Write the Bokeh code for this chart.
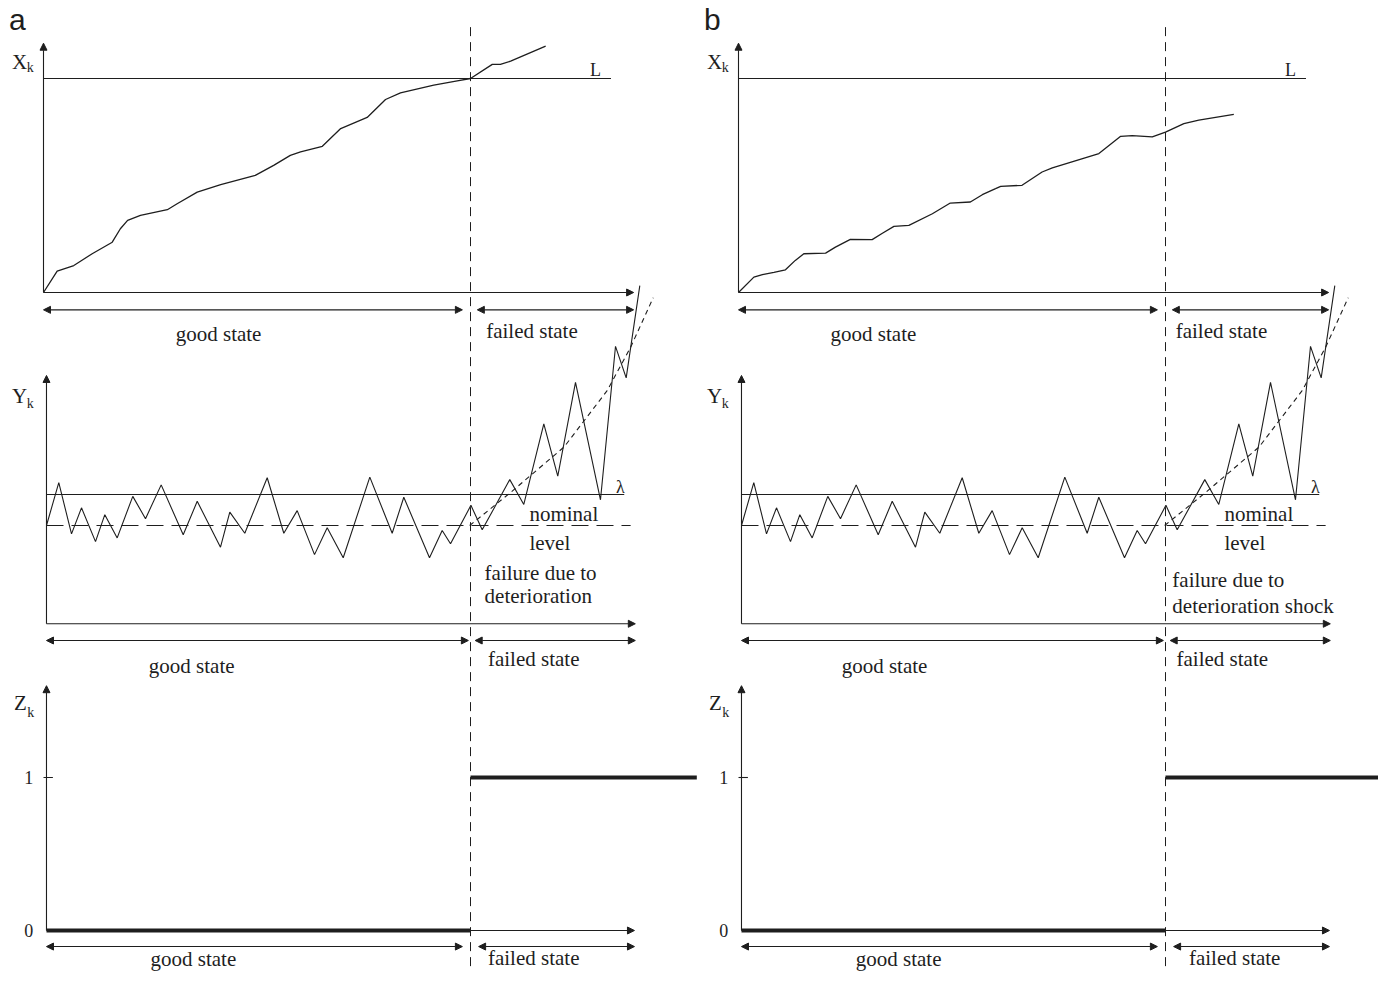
from bokeh.plotting import figure
from bokeh.models import Range1d, Arrow, NormalHead
from bokeh.core.properties import value
from bokeh.embed import file_html
from bokeh.resources import INLINE

# ---------------- data ----------------
# degradation path X_k (panel a: crosses L at failure; panel b: stays below L)
k_x_a = [0, 3.2, 7.1, 11.4, 16.1, 18.0, 19.7, 22.7, 29.0, 31.3, 36.0, 41.5, 49.6, 53.9,
         57.8, 60.2, 65.3, 69.6, 75.8, 80.1, 83.6, 91.4, 96.9, 100.0, 105.1, 107.0, 109.4, 117.6]
x_a = [0, 0.100, 0.126, 0.181, 0.235, 0.298, 0.337, 0.360, 0.387, 0.415, 0.469, 0.504, 0.547,
       0.594, 0.641, 0.657, 0.683, 0.766, 0.818, 0.902, 0.933, 0.969, 0.989, 1.0, 1.066, 1.066,
       1.081, 1.151]
k_x_b = [0, 3.6, 5.6, 8.3, 11.0, 13.3, 15.3, 20.4, 22.7, 26.2, 31.3, 33.7, 36.4, 39.9, 45.4,
         49.6, 54.3, 57.1, 60.2, 61.4, 66.4, 71.1, 73.5, 84.4, 89.5, 92.2, 96.9, 100.0, 104.3,
         107.8, 116.0]
x_b = [0, 0.072, 0.084, 0.094, 0.106, 0.150, 0.181, 0.184, 0.212, 0.248, 0.247, 0.277, 0.309,
       0.314, 0.368, 0.418, 0.423, 0.457, 0.485, 0.496, 0.501, 0.563, 0.582, 0.649, 0.730, 0.733,
       0.727, 0.749, 0.789, 0.805, 0.832]

# observation Y_k (same in both panels)
k_y = [0.7, 3.58, 6.56, 8.90, 12.18, 14.36, 17.26, 20.91, 23.89, 27.56, 32.72, 36.00, 41.45,
       43.63, 47.14, 52.39, 56.28, 59.41, 63.47, 66.44, 70.19, 76.42, 81.66, 84.38, 90.40, 93.37,
       95.32, 100.1, 102.74, 109.20, 112.48, 117.17, 120.44, 124.59, 130.44, 133.96, 136.46, 139.65]
y_obs = [0, 1.38, -0.27, 0.57, -0.52, 0.35, -0.40, 0.94, 0.22, 1.31, -0.30, 0.78, -0.70, 0.43,
         -0.25, 1.54, -0.25, 0.48, -0.94, -0.07, -1.04, 1.56, -0.25, 0.91, -1.04, -0.16, -0.59,
         0.65, -0.14, 1.48, 0.68, 3.28, 1.59, 4.62, 0.83, 5.78, 4.76, 7.74]
k_trend = [99.8, 109.0, 121.9, 132.0, 137.5, 142.8]
y_trend = [0, 1.02, 2.53, 4.35, 5.75, 7.35]

# state indicator Z_k
k_z_good = [0.7, 100]
z_good = [0, 0]
k_z_fail = [100, 153]
z_fail = [1, 1]

K_FAIL = 100      # failure instant
L_LEVEL = 1.0     # threshold L on X_k
LAMBDA = 1.0      # threshold lambda on Y_k
NOMINAL = 0.0     # nominal level of Y_k
Z_TICKS = [0, 1]
Z_TICK_LABELS = ["0", "1"]

INK = "#1e1e1e"
SERIF = value("Liberation Serif")

# ---------------- figure & scales ----------------
W, H = 1378, 972


def lin_range(v0, p0, v1, p1, lo, hi):
    s = (v1 - v0) / (p1 - p0)
    return Range1d(v0 + (lo - p0) * s, v0 + (hi - p0) * s)


p = figure(width=W, height=H, output_backend="svg", toolbar_location=None,
           x_axis_type=None, y_axis_type=None, min_border=0,
           x_range=lin_range(0, 43, 100, 470, 0, W),
           y_range=lin_range(0, 292, 1, 78, H, 0))
p.extra_x_ranges = {"b": lin_range(0, 738, 100, 1165, 0, W)}
p.extra_y_ranges = {"Y": lin_range(0, 525, 1, 494, H, 0),
                    "Z": lin_range(0, 930, 1, 777, H, 0)}
p.outline_line_color = None
p.grid.visible = False
p.background_fill_color = "white"
p.border_fill_color = "white"

YR = {"X": "default", "Y": "Y", "Z": "Z"}
XR = {"a": "default", "b": "b"}


def head():
    return NormalHead(size=7, line_color=INK, fill_color=INK, line_width=1)


def arrow(col, panel, x0, y0, x1, y1, both=False):
    p.add_layout(Arrow(end=head(), start=head() if both else None,
                       x_start=x0, y_start=y0, x_end=x1, y_end=y1,
                       line_color=INK, line_width=1.1,
                       x_range_name=XR[col], y_range_name=YR[panel]))


def line(col, panel, xs, ys, **kw):
    opts = dict(line_color=INK, line_width=1.1)
    opts.update(kw)
    p.line(xs, ys, x_range_name=XR[col], y_range_name=YR[panel], **opts)


def txt(col, panel, x, y, s, size="21px", align="center", font=SERIF, baseline="middle"):
    p.text(x=[x], y=[y], text=[s], text_font=font, text_font_size=size,
           text_align=align, text_baseline=baseline, text_color=INK,
           x_range_name=XR[col], y_range_name=YR[panel])


cols = {
    "a": dict(kx=k_x_a, xv=x_a, label="a",
              good=[41.0, 34.7, 35.1], fail=[114.4, 114.8, 114.8],
              fail_txt=["failure due to", "deterioration"], fail_txt_x=103.3,
              fail_txt_y=[-1.52, -2.26]),
    "b": dict(kx=k_x_b, xv=x_b, label="b",
              good=[31.6, 34.2, 37.5], fail=[113.1, 113.3, 116.2],
              fail_txt=["failure due to", "deterioration shock"], fail_txt_x=101.6,
              fail_txt_y=[-1.77, -2.61]),
}

for c, cfg in cols.items():
    # panel letter
    txt(c, "X", -6.1, 1.277, cfg["label"], size="30px", font=value("Liberation Sans"))
    # failure instant (vertical dashed line through all panels)
    line(c, "X", [K_FAIL, K_FAIL], [1.24, -3.4], line_dash="9 6", line_width=1.0)

    # ---- X_k panel ----
    arrow(c, "X", 0, 0, 0, 1.165)
    arrow(c, "X", 0, 0, 138.2, 0)
    line(c, "X", [0, 132.9], [L_LEVEL, L_LEVEL])
    txt(c, "X", 129.3, 1.039, "L", size="18px")
    txt(c, "X", -5.6, 1.076, "X", size="21px")
    txt(c, "X", -3.9, 1.050, "k", size="14px", align="left")
    line(c, "X", cfg["kx"], cfg["xv"], line_width=1.3)
    arrow(c, "X", 0, -0.081, 98.1, -0.081, both=True)
    arrow(c, "X", 101.6, -0.081, 138.2, -0.081, both=True)
    txt(c, "X", cfg["good"][0], -0.192, "good state")
    txt(c, "X", cfg["fail"][0], -0.178, "failed state")

    # ---- Y_k panel ----
    arrow(c, "Y", 0.7, -3.17, 0.7, 4.84)
    arrow(c, "Y", 0.7, -3.17, 138.6, -3.17)
    line(c, "Y", [0.7, 136.0], [LAMBDA, LAMBDA])
    line(c, "Y", [0.7, 137.5], [NOMINAL, NOMINAL], line_dash="17 8")
    txt(c, "Y", 135.1, 1.24, "λ", size="18px")
    txt(c, "Y", -5.6, 4.19, "Y", size="21px")
    txt(c, "Y", -3.9, 3.95, "k", size="14px", align="left")
    line(c, "Y", k_y, y_obs, line_width=1.1)
    line(c, "Y", k_trend, y_trend, line_dash="5 4", line_width=1.1)
    txt(c, "Y", 113.8, 0.36, "nominal", align="left")
    txt(c, "Y", 113.8, -0.55, "level", align="left")
    for s, yy in zip(cfg["fail_txt"], cfg["fail_txt_y"]):
        txt(c, "Y", cfg["fail_txt_x"], yy, s, align="left")
    arrow(c, "Y", 0.7, -3.71, 99.5, -3.71, both=True)
    arrow(c, "Y", 101.1, -3.71, 138.6, -3.71, both=True)
    txt(c, "Y", cfg["good"][1], -4.52, "good state")
    txt(c, "Y", cfg["fail"][1], -4.32, "failed state")

    # ---- Z_k panel ----
    arrow(c, "Z", 0.7, 0, 0.7, 1.60)
    arrow(c, "Z", 0.7, 0, 138.4, 0)
    line(c, "Z", [0, 2.2], [1, 1])
    for zt, zl in zip(Z_TICKS, Z_TICK_LABELS):
        txt(c, "Z", -2.4, zt, zl, size="18px", align="right")
    txt(c, "Z", -5.4, 1.484, "Z", size="21px")
    txt(c, "Z", -3.8, 1.425, "k", size="14px", align="left")
    line(c, "Z", k_z_good, z_good, line_width=4)
    line(c, "Z", k_z_fail, z_fail, line_width=4)
    arrow(c, "Z", 0.7, -0.105, 98.1, -0.105, both=True)
    arrow(c, "Z", 101.9, -0.105, 138.4, -0.105, both=True)
    txt(c, "Z", cfg["good"][2], -0.186, "good state")
    txt(c, "Z", cfg["fail"][2], -0.180, "failed state")

open("out.html", "w").write(file_html(p, INLINE))
